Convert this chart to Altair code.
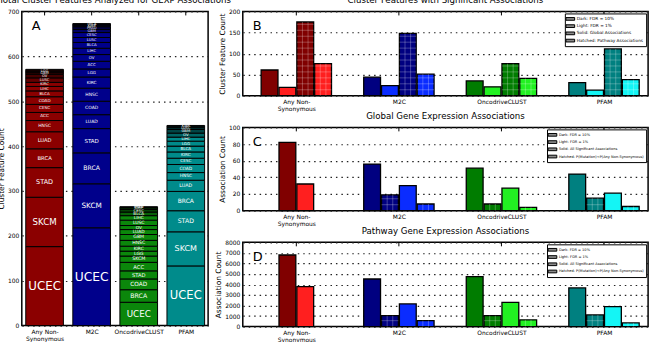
import json
import altair as alt
import pandas as pd

FONT = "DejaVu Sans"

# ---------------------------------------------------------------- data
methods = ["Any Non-\nSynonymous", "M2C", "OncodriveCLUST", "PFAM"]

# Panel A: cancer-type composition of the analysed cluster features
any_types = ["UCEC", "SKCM", "STAD", "BRCA", "LUAD", "HNSC", "ACC", "CESC",
             "COAD", "BLCA", "LIHC", "KIRC", "LUSC", "OV", "GBM", "LGG"]
any_counts = [176, 110, 66, 42, 38, 25, 18, 18, 17, 13, 10, 9, 10, 8, 5, 6]

m2c_types = ["UCEC", "SKCM", "BRCA", "STAD", "LUAD", "COAD", "HNSC", "KIRC",
             "LGG", "ACC", "OV", "LIHC", "BLCA", "LUSC", "CESC", "GBM", "PRAD",
             "KIRP", "THCA"]
m2c_counts = [218, 98, 69, 54, 31, 30, 29, 25, 18, 17, 15, 14, 13, 11, 11, 7,
              6, 4, 3]

onco_types = ["UCEC", "BRCA", "COAD", "STAD", "ACC", "SKCM", "LGG", "KIRC",
              "HNSC", "GBM", "LUAD", "OV", "LUSC", "LIHC", "BLCA", "CESC",
              "KIRP", "PRAD"]
onco_counts = [52, 28, 24, 18, 19, 14, 11, 11, 13, 13, 11, 9, 12, 10, 8, 6, 4, 2]

pfam_types = ["UCEC", "SKCM", "STAD", "BRCA", "LUAD", "HNSC", "COAD", "CESC",
              "KIRC", "BLCA", "LGG", "LIHC", "OV", "GBM", "LUSC", "KIRP"]
pfam_counts = [133, 76, 47, 43, 25, 17, 18, 14, 14, 13, 11, 9, 9, 8, 5, 4]

# Panel B: cluster features with significant associations
b_dark_global = [61, 44, 35, 31]
b_light_global = [20, 24, 21, 13]
b_dark_pathway = [175, 148, 76, 111]
b_light_pathway = [76, 51, 41, 38]

# Panel C: global gene expression associations
c_dark = [82, 56, 51, 44]
c_dark_hatched = [None, 19, 8, 15]
c_light = [32, 30, 27, 21]
c_light_hatched = [None, 8, 4, 5]

# Panel D: pathway gene expression associations
d_dark = [6800, 4520, 4740, 3670]
d_dark_hatched = [None, 1040, 1040, 1110]
d_light = [3790, 2150, 2310, 1900]
d_light_hatched = [None, 570, 640, 350]

legend_b = ["Dark: FDR = 10%", "Light: FDR = 1%",
            "Solid: Global Associations", "Hatched: Pathway Associations"]
legend_cd = ["Dark: FDR = 10%", "Light: FDR = 1%",
             "Solid: All Significant Associations",
             "Hatched: P(Mutation)<P(Any Non-Synonymous)"]

# ---------------------------------------------------------------- styling
a_colors = ["#8b0000", "#00008b", "#0b870b", "#008b8b"]
dark_colors = ["#800000", "#000080", "#007c00", "#008080"]
light_colors = ["#ff1f1f", "#0a2cff", "#22f022", "#14f5f5"]
top_shades = [0.12, 0.3, 0.5, 0.72]   # darkening of the uppermost segments


def shade(hex_color, f):
    r, g, b = (int(hex_color[i:i + 2], 16) for i in (1, 3, 5))
    return "#%02x%02x%02x" % (int(r * f), int(g * f), int(b * f))


label_expr = "split(" + json.dumps(methods) + "[datum.value], '\\n')"


def y_axis(values, title):
    return alt.Axis(values=values, title=title, grid=True, gridDash=[1.5, 4],
                    gridColor="#222222", gridWidth=1.2, ticks=False,
                    domain=False, labelFontSize=6, labelPadding=3,
                    labelOverlap=False, labelBound=False, format="d",
                    titleFontSize=7.5, titleFontWeight="normal", titlePadding=2)


x_axis = alt.Axis(values=[0, 1, 2, 3], labelExpr=label_expr, ticks=False,
                  domain=False, grid=False, labelFontSize=6, labelPadding=3,
                  labelLineHeight=7, title=None)


def letter(ch, dy):
    return alt.Chart(pd.DataFrame({"t": [ch]})).mark_text(
        font=FONT, fontSize=13, align="left", baseline="alphabetic"
    ).encode(text="t:N", x=alt.value(10), y=alt.value(dy))


def top_ticks():
    return alt.Chart(pd.DataFrame({"g": [0, 1, 2, 3]})).mark_rule(
        color="black", strokeWidth=1
    ).encode(x=alt.X("g:Q", axis=x_axis), y=alt.value(0), y2=alt.value(4))


# ---------------------------------------------------------------- panel A
rows = []
for i, (types, counts) in enumerate(zip(
        [any_types, m2c_types, onco_types, pfam_types],
        [any_counts, m2c_counts, onco_counts, pfam_counts])):
    total = sum(counts)
    base = 0
    n = len(counts)
    for j, (t, c) in enumerate(zip(types, counts)):
        k = n - 1 - j
        f = top_shades[k] if k < len(top_shades) else 1.0
        rows.append(dict(g=i, type=t, y0=base, y1=base + c, mid=base + c / 2,
                         x0=i - 0.4, x1=i + 0.4,
                         fill=shade(a_colors[i], f),
                         fs=min(12.7, 3.3 + 28 * c / total)))
        base += c
dfa = pd.DataFrame(rows)

xa_scale = alt.Scale(domain=[-0.484, 3.474], nice=False, zero=False)
ya_scale = alt.Scale(domain=[0, 700], nice=False)
ya_axis = y_axis(list(range(0, 701, 100)), "Cluster Feature Count")

a_bars = alt.Chart(dfa).mark_bar(stroke="black", strokeWidth=1).encode(
    x=alt.X("x0:Q", scale=xa_scale, axis=x_axis),
    x2="x1:Q",
    y=alt.Y("y0:Q", scale=ya_scale, axis=ya_axis),
    y2="y1:Q",
    fill=alt.Fill("fill:N", scale=None),
)
a_text = alt.Chart(dfa).mark_text(color="white", font=FONT).encode(
    x=alt.X("g:Q", axis=x_axis), y=alt.Y("mid:Q", axis=ya_axis), text="type:N",
    size=alt.Size("fs:Q", scale=None)
)
panel_a = alt.layer(a_bars, a_text, top_ticks(), letter("A", 19)).properties(
    width=188, height=317,
    title=alt.TitleParams("Total Cluster Features Analyzed for GEXP Associations",
                          fontSize=8.7, fontWeight="normal", offset=4, font=FONT),
)

# ---------------------------------------------------------------- panels B-D
SLOT = 0.174
BAR_W = 0.164
HATCH_PX = 6


def bar_panel(series, ymax, yvals, height, title, ytitle, ch, keys, key_size):
    bars, hatch = [], []
    step = HATCH_PX * ymax / height
    for g in range(4):
        present = [(vals[g], cols[g], h) for vals, cols, h in series
                   if vals[g] is not None]
        n = len(present)
        for k, (v, col, h) in enumerate(present):
            x0 = g + (k - (n - 1) / 2) * SLOT - BAR_W / 2
            x1 = x0 + BAR_W
            bars.append(dict(x0=x0, x1=x1, v=v, fill=col))
            if h:
                lvl = step
                while lvl < v - 0.3 * step:
                    hatch.append(dict(hx0=x0, hx1=x1, hy0=lvl, hy1=lvl))
                    lvl += step
                for q in (1, 2):
                    hx = x0 + q * BAR_W / 3
                    hatch.append(dict(hx0=hx, hx1=hx, hy0=0, hy1=v))
    dfb = pd.DataFrame(bars)
    dfh = pd.DataFrame(hatch)

    xs = alt.Scale(domain=[-0.522, 3.43], nice=False, zero=False)
    ys = alt.Scale(domain=[0, ymax], nice=False)
    ya = y_axis(yvals, ytitle)

    bar_layer = alt.Chart(dfb).mark_bar(stroke="black", strokeWidth=1.3).encode(
        x=alt.X("x0:Q", scale=xs, axis=x_axis),
        x2="x1:Q",
        y=alt.Y("v:Q", scale=ys, axis=ya),
        y2=alt.datum(0),
        fill=alt.Fill("fill:N", scale=None),
    )
    hatch_layer = alt.Chart(dfh).mark_rule(
        color="white", opacity=0.32, strokeWidth=0.8
    ).encode(x=alt.X("hx0:Q", axis=x_axis), x2="hx1:Q",
             y=alt.Y("hy0:Q", axis=ya), y2="hy1:Q")

    legend_layer = alt.Chart(pd.DataFrame({"key": keys})).mark_square(
        opacity=0
    ).encode(
        x=alt.value(0), y=alt.value(0),
        color=alt.Color(
            "key:N",
            scale=alt.Scale(domain=keys, range=["#8a8a8a"] * 4),
            legend=alt.Legend(
                title=None, orient="top-right", offset=2, padding=2,
                strokeColor="black", fillColor="white",
                labelFontSize=key_size, labelFont=FONT, labelOffset=3,
                symbolType="M-1.6,-0.5H1.6V0.5H-1.6Z", symbolSize=30,
                symbolStrokeColor="black", symbolStrokeWidth=1,
                symbolOpacity=1, rowPadding=0.3, labelLimit=200,
            ),
        ),
    )
    return alt.layer(bar_layer, hatch_layer, top_ticks(), legend_layer,
                     letter(ch, 19)).properties(
        width=409, height=height,
        title=alt.TitleParams(title, fontSize=8.7, fontWeight="normal",
                              offset=4, font=FONT),
    )


panel_b = bar_panel(
    [(b_dark_global, dark_colors, False), (b_light_global, light_colors, False),
     (b_dark_pathway, dark_colors, True), (b_light_pathway, light_colors, True)],
    200, [0, 50, 100, 150, 200], 85,
    "Cluster Features with Significant Associations", "Cluster Feature Count",
    "B", legend_b, 4.3)
panel_c = bar_panel(
    [(c_dark, dark_colors, False), (c_dark_hatched, dark_colors, True),
     (c_light, light_colors, False), (c_light_hatched, light_colors, True)],
    100, [0, 20, 40, 60, 80, 100], 84,
    "Global Gene Expression Associations", "Association Count", "C",
    legend_cd, 3.6)
panel_d = bar_panel(
    [(d_dark, dark_colors, False), (d_dark_hatched, dark_colors, True),
     (d_light, light_colors, False), (d_light_hatched, light_colors, True)],
    8000, list(range(0, 8001, 1000)), 85,
    "Pathway Gene Expression Associations", "Association Count", "D",
    legend_cd, 3.6)

right = alt.vconcat(panel_b, panel_c, panel_d, spacing=32, bounds="flush").resolve_scale(
    x="independent", y="independent", color="independent"
).resolve_legend(color="independent")

chart = alt.hconcat(panel_a, right, spacing=35, bounds="flush").properties(
    padding={"left": -4, "top": -7, "right": 10, "bottom": 0}
).configure(font=FONT, background="white").configure_view(
    stroke="black", strokeWidth=1.5
).configure_axis(labelFont=FONT, titleFont=FONT, labelColor="black",
                 titleColor="black")

chart.save("out.html", embed_options={"renderer": "svg", "actions": False})
